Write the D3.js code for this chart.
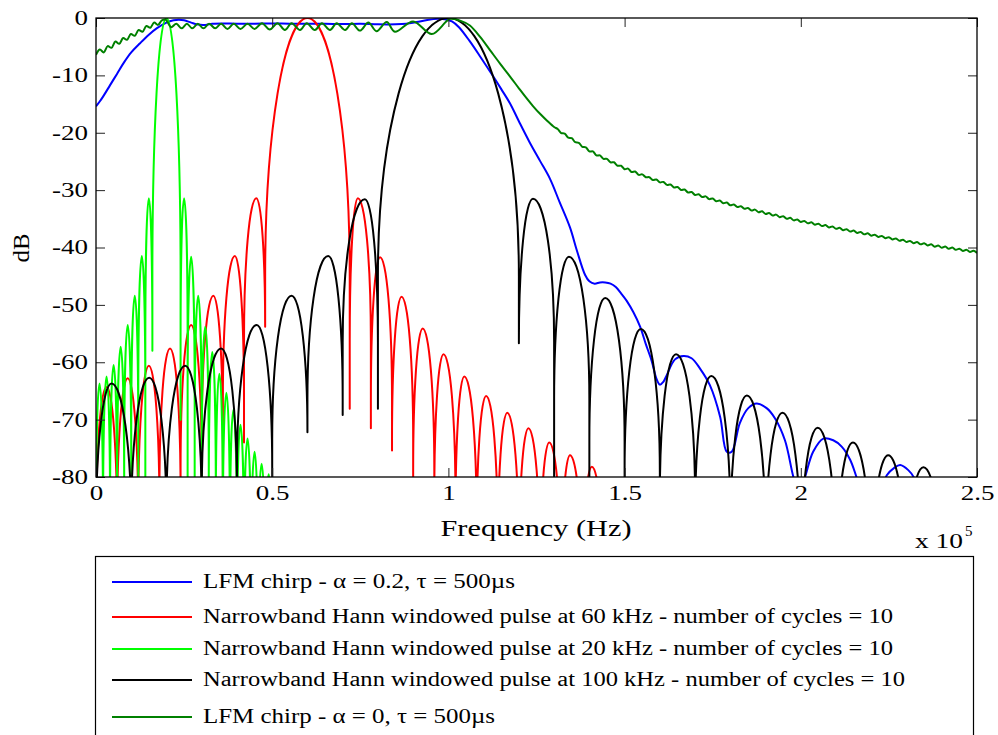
<!DOCTYPE html>
<html>
<head>
<meta charset="utf-8">
<script src="https://cdn.jsdelivr.net/npm/d3@7/dist/d3.min.js"></script>
<style>
  html, body { margin: 0; padding: 0; background: #fff; }
  svg { display: block; }
  svg text { font-family: "Liberation Serif", "DejaVu Serif", "Noto Serif", "Times New Roman", serif; fill: #000; }
</style>
</head>
<body>
<svg id="chart" width="998" height="735"></svg>
<script>
// ---- data (frequency in kHz, level in dB) ----
const xTickValues = [0, 50, 100, 150, 200, 250];
const xTickLabels = ["0", "0.5", "1", "1.5", "2", "2.5"];
const yTickValues = [0, -10, -20, -30, -40, -50, -60, -70, -80];
const yTickLabels = ["0", "-10", "-20", "-30", "-40", "-50", "-60", "-70", "-80"];

// Hann windowed pulses: nulls [f, dB] and the lobe peak found between each pair of nulls
const hann20Nulls = [[0,-100],[2,-100],[4,-100],[6,-100],[8,-100],[10,-100],[12,-100],[14,-100],[16,-58],
  [24,-70],[26,-100],[28,-100],[30,-100],[32,-100],[34,-100],[36,-100],[38,-100],[40,-100],[42,-100],
  [44,-100],[46,-100],[48,-100],[50,-100]];
const hann20Peaks = [[1,-63.7],[3,-62.5],[5,-60.5],[7,-57.3],[9,-53.5],[11,-48.4],[13,-41.5],[15,-31.4],
  [20,0],[25,-31.4],[27,-41.6],[29,-48.4],[31,-53.8],[33,-58.2],[35,-62],[37,-65.3],[39,-68.3],
  [41,-70.9],[43,-73.3],[45,-75.6],[47,-77.7],[49,-79.5]];

const hann60Nulls = [[0,-100],[6,-100],[12,-100],[18,-100],[24,-100],[30,-100],[36,-100],[42,-74],
  [48,-53.8],[72,-68.1],[78,-71.5],[84,-75.4],[90,-100],[96,-100],[102,-100],[108,-100],[114,-100],
  [120,-100],[126,-100],[132,-100],[138,-100],[144,-100]];
const hann60Peaks = [[3,-64.3],[9,-62.8],[15,-60.6],[21,-57.6],[27,-53.5],[33.3,-48.4],[39.4,-41.5],
  [45.5,-31.4],[60,0],[74.3,-31.4],[80.6,-41.7],[86.7,-48.6],[92.7,-54.1],[98.6,-58.6],[104.5,-62.5],
  [110.7,-65.9],[116.7,-68.8],[122.7,-71.5],[128.6,-74],[134.5,-76.2],[140.7,-78.2]];

const hann100Nulls = [[0,-100],[10,-100],[20,-100],[30,-100],[40,-100],[50,-100],[60,-72.2],[70,-69.2],
  [80,-68.1],[120,-56.7],[130,-100],[140,-100],[150,-100],[160,-100],[170,-100],[180,-100],[190,-100],
  [200,-100],[210,-100],[220,-100],[230,-100],[240,-100],[250,-100]];
const hann100Peaks = [[4.4,-63.7],[15.1,-62.7],[25.3,-60.6],[35.5,-57.6],[45.6,-53.5],[55.5,-48.4],
  [65.9,-41.5],[76.3,-31.6],[100,0],[124,-31.5],[134.2,-41.6],[144.5,-48.8],[154.6,-54.2],[164.6,-58.6],
  [174.6,-62.4],[184.7,-65.8],[194.8,-68.8],[204.8,-71.4],[214.8,-74],[224.8,-76.2],[234.8,-78.3],[245,-80.3]];

// LFM chirp, alpha = 0.2
const lfmTaper = [[0,-15.4],[1,-14.6],[2,-13.7],[4,-11.7],[6,-9.7],[8,-7.7],[10,-6.0],[12.5,-4.4],[15,-2.9],
  [17.2,-1.8],[20,-0.8],[22,-0.4],[23.5,-0.3],[25,-0.4],[27,-0.8],[29,-1.15],[31,-1.2],[33,-1.0],[36,-0.95],
  [40,-1.0],[45,-1.0],[50,-0.95],[55,-1.0],[60,-1.0],[65,-1.0],[70,-1.05],[75,-1.0],[80,-1.1],[85,-1.1],
  [88,-1.0],[91,-0.7],[94,-0.35],[97,-0.15],[99,-0.2],[101,-0.6],[103,-1.6],[106,-4.0],[109,-6.7],
  [112,-9.5],[115,-12.4],[117.5,-14.9],[120,-18.0],[123,-21.6],[126,-24.9],[128.8,-28.0],[131.5,-32.0],
  [134.5,-36.5],[136.5,-40.6],[138.8,-44.8],[140,-45.9],[141.5,-46.3],[143,-46.1],[144.5,-46.1],
  [146,-46.3],[147.5,-46.9],[149,-48.0],[150.6,-49.3],[152.5,-51.3],[154.4,-53.8],[156,-56.8],
  [157.7,-59.8],[159,-62.8],[160,-63.9],[161,-63.4],[162,-62.2],[164.3,-59.5],[166.7,-58.9],[169,-59.3],
  [171.4,-61.1],[174.2,-64.0],[177.1,-69.5],[179,-75.6],[180.4,-75.6],[182.7,-70.6],[185.1,-68.0],
  [187.5,-67.2],[190.3,-68.0],[192.7,-69.8],[195.5,-73.6],[197.9,-80],[199.5,-83],[201.2,-80],
  [203.5,-75.6],[206.4,-73.3],[209.2,-73.6],[211.6,-74.7],[214,-77],[215.8,-80],[218,-84],[222,-84],
  [224.4,-79.7],[226.5,-78.4],[228.2,-77.9],[230.5,-78.8],[232,-80],[234,-84],[250,-92]];

// LFM chirp, alpha = 0: passband ripple and roll-off
const lfmRectBand = [[0,-6.4],[1.1,-5.5],[2.2,-6.0],[3.3,-4.9],[4.4,-5.2],[5.5,-4.1],[6.6,-4.5],[7.7,-3.5],
  [8.8,-3.8],[9.9,-2.8],[11,-3.1],[12.1,-2.1],[13.2,-2.4],[14.3,-1.4],[15.4,-1.7],[16.5,-0.8],[17.6,-1.2],
  [18.7,-0.4],[19.8,-0.3],[21.3,-1.6],[22.8,-1.0],[24.3,-1.8],[25.8,-1.0],[27.3,-1.8],[28.9,-1.0],
  [30.5,-1.8],[32.1,-1.0],[33.8,-1.8],[35.5,-1.0],[37.3,-1.9],[39.1,-1.0],[41,-1.9],[43,-1.0],[45,-1.9],
  [47.1,-0.9],[49.3,-2.0],[51.5,-0.9],[53.6,-2.1],[55.5,-0.9],[57.9,-2.1],[59.8,-0.9],[62.1,-2.1],
  [64.1,-0.9],[66.4,-2.1],[68.3,-0.9],[70.7,-2.1],[72.6,-0.9],[74.9,-2.2],[77.3,-0.8],[79.6,-2.3],
  [82.5,-0.7],[84.8,-2.4],[90,-0.6],[95.3,-2.8],[100.5,-0.15],[103.5,-0.5],[106.1,-1.3],[109,-3.3],
  [111.8,-5.6],[114.6,-7.9],[117.5,-10.2],[120,-12.25],[122,-13.85],[124,-15.35],[126,-16.7],[128,-17.9]];
// LFM chirp, alpha = 0: out-of-band tail with its fine ripple
const lfmRectTail = [[130,-19.0],[131,-19.35],[132,-20.05],[133,-20.15],[134,-20.85],[135,-20.95],
  [136,-21.65],[137,-21.75],[138,-22.45],[139,-22.55],[140,-23.25],[141,-23.25],[142,-23.95],[143,-23.95],
  [144,-24.55],[145,-24.55],[146,-25.15],[147,-25.15],[148,-25.75],[149,-25.75],[150,-26.35],[151,-26.25],
  [152,-26.85],[153,-26.75],[154,-27.35],[155,-27.25],[156,-27.75],[157,-27.75],[158,-28.25],[159,-28.15],
  [160,-28.65],[161,-28.57],[162,-29.09],[163,-29.01],[164,-29.53],[165,-29.45],
  [166,-29.97],[167,-29.89],[168,-30.41],[169,-30.33],[170,-30.85],[171,-30.73],[172,-31.21],[173,-31.09],
  [174,-31.57],[175,-31.45],[176,-31.93],[177,-31.81],[178,-32.29],[179,-32.17],[180,-32.65],[181,-32.5],
  [182,-32.95],[183,-32.8],[184,-33.25],[185,-33.1],[186,-33.55],[187,-33.4],[188,-33.85],[189,-33.7],
  [190,-34.15],[191,-33.99],[192,-34.43],[193,-34.27],[194,-34.71],[195,-34.55],[196,-34.99],[197,-34.83],
  [198,-35.27],[199,-35.11],[200,-35.55],[201,-35.37],[202,-35.79],[203,-35.61],[204,-36.03],[205,-35.85],
  [206,-36.27],[207,-36.09],[208,-36.51],[209,-36.33],[210,-36.75],[211,-36.57],[212,-36.99],[213,-36.81],
  [214,-37.23],[215,-37.05],[216,-37.47],[217,-37.29],[218,-37.71],[219,-37.53],[220,-37.95],[221,-37.76],
  [222,-38.17],[223,-37.98],[224,-38.39],[225,-38.2],[226,-38.61],[227,-38.42],[228,-38.83],[229,-38.64],
  [230,-39.05],[231,-38.85],[232,-39.25],[233,-39.05],[234,-39.45],[235,-39.25],[236,-39.65],[237,-39.45],
  [238,-39.85],[239,-39.65],[240,-40.05],[241,-39.84],[242,-40.23],[243,-40.02],[244,-40.41],[245,-40.2],
  [246,-40.59],[247,-40.38],[248,-40.77],[249,-40.56],[250,-40.95]];

const legendLabels = [
  "LFM chirp - \u03b1 = 0.2, \u03c4 = 500\u00b5s",
  "Narrowband Hann windowed pulse at 60 kHz - number of cycles = 10",
  "Narrowband Hann windowed pulse at 20 kHz - number of cycles = 10",
  "Narrowband Hann windowed pulse at 100 kHz - number of cycles = 10",
  "LFM chirp - \u03b1 = 0, \u03c4 = 500\u00b5s"
];

// ---- layout ----
const W = 998, H = 735;
const plot = { left: 96, right: 977, top: 18, bottom: 477 };
const colors = { taper: "#0000ff", h60: "#ff0000", h20: "#00ff00", h100: "#000000", rect: "#008000" };

const svg = d3.select("#chart");
svg.append("rect").attr("width", W).attr("height", H).attr("fill", "#fff");

const x = d3.scaleLinear().domain([0, 250]).range([plot.left, plot.right]);
const y = d3.scaleLinear().domain([-80, 0]).range([plot.bottom, plot.top]);

svg.append("defs").append("clipPath").attr("id", "plotClip")
  .append("rect").attr("x", plot.left).attr("y", plot.top)
  .attr("width", plot.right - plot.left).attr("height", plot.bottom - plot.top);

const marks = svg.append("g").attr("clip-path", "url(#plotClip)");

// Lobe path: each lobe is a pair of quarter ellipses meeting at the peak,
// dropping straight to the null on either side.
function lobePath(nulls, peaks, mainDepth, sideDepth) {
  let s = `M${x(nulls[0][0])},${y(nulls[0][1])}`;
  peaks.forEach(([fp, dp], i) => {
    const [fl, dl] = nulls[i];
    const [fr, dr] = nulls[i + 1];
    const depth = dp > -10 ? mainDepth : sideDepth;
    const dL = Math.min(depth, dp - dl);
    const dR = Math.min(depth, dp - dr);
    const xl = x(fl), xp = x(fp), xr = x(fr), yp = y(dp);
    const yl = y(dp - dL), yr = y(dp - dR);
    s += `L${xl},${yl}A${xp - xl},${yl - yp} 0 0 1 ${xp},${yp}`;
    s += `A${xr - xp},${yr - yp} 0 0 1 ${xr},${yr}L${xr},${y(dr)}`;
  });
  return s;
}

const smooth = d3.line().x(d => x(d[0])).y(d => y(d[1])).curve(d3.curveCatmullRom.alpha(0.5));

const lw = 2;
function stroke(sel, color) {
  return sel.attr("fill", "none").attr("stroke", color).attr("stroke-width", lw)
    .attr("stroke-linejoin", "round");
}
stroke(marks.append("path").attr("d", smooth(lfmTaper)), colors.taper);
stroke(marks.append("path").attr("d", lobePath(hann60Nulls, hann60Peaks, 45, 25)), colors.h60);
stroke(marks.append("path").attr("d", lobePath(hann20Nulls, hann20Peaks, 45, 25)), colors.h20);
stroke(marks.append("path").attr("d", lobePath(hann100Nulls, hann100Peaks, 45, 25)), colors.h100);
stroke(marks.append("path").attr("d", smooth(lfmRectBand.concat(lfmRectTail))), colors.rect);

// ---- axes (ticks point inward on all four sides) ----
const tickLen = 9;
const tickFont = 20;

const gLeft = svg.append("g").attr("transform", `translate(${plot.left},0)`)
  .call(d3.axisLeft(y).tickValues(yTickValues).tickFormat((d, i) => yTickLabels[i])
    .tickSizeInner(-tickLen).tickSizeOuter(0).tickPadding(8));
const gBottom = svg.append("g").attr("transform", `translate(0,${plot.bottom})`)
  .call(d3.axisBottom(x).tickValues(xTickValues).tickFormat((d, i) => xTickLabels[i])
    .tickSizeInner(-tickLen).tickSizeOuter(0).tickPadding(9));
const gRight = svg.append("g").attr("transform", `translate(${plot.right},0)`)
  .call(d3.axisRight(y).tickValues(yTickValues).tickFormat("").tickSizeInner(-tickLen).tickSizeOuter(0));
const gTop = svg.append("g").attr("transform", `translate(0,${plot.top})`)
  .call(d3.axisTop(x).tickValues(xTickValues).tickFormat("").tickSizeInner(-tickLen).tickSizeOuter(0));

[gLeft, gBottom, gRight, gTop].forEach(g => {
  g.attr("font-family", null).attr("font-size", null);
  g.select(".domain").remove();
  g.selectAll(".tick line").attr("stroke", "#222").attr("stroke-width", 1);
  g.selectAll(".tick text").attr("font-size", tickFont);
});

svg.append("rect").attr("x", plot.left).attr("y", plot.top)
  .attr("width", plot.right - plot.left).attr("height", plot.bottom - plot.top)
  .attr("fill", "none").attr("stroke", "#000").attr("stroke-width", 1.3);

// widen glyphs horizontally by a common factor
function widen(sel, factor) {
  sel.each(function () {
    const w = this.getComputedTextLength();
    d3.select(this).attr("textLength", w * factor).attr("lengthAdjust", "spacingAndGlyphs");
  });
}
const tickNode = gLeft.selectAll(".tick text").filter((d, i) => i === yTickLabels.length - 1).node();
const tickFactor = 36 / tickNode.getComputedTextLength();
widen(gLeft.selectAll(".tick text"), tickFactor);
widen(gBottom.selectAll(".tick text"), tickFactor);

// ---- axis titles ----
svg.append("text").attr("x", 536).attr("y", 536).attr("text-anchor", "middle")
  .attr("font-size", 23).text("Frequency (Hz)")
  .attr("textLength", 191).attr("lengthAdjust", "spacingAndGlyphs");
svg.append("text").attr("transform", "translate(29,248) rotate(-90)").attr("text-anchor", "middle")
  .attr("font-size", 23).text("dB")
  .attr("textLength", 29).attr("lengthAdjust", "spacingAndGlyphs");
svg.append("text").attr("x", 915).attr("y", 548).attr("font-size", 21).text("x 10")
  .attr("textLength", 48).attr("lengthAdjust", "spacingAndGlyphs");
svg.append("text").attr("x", 965).attr("y", 536).attr("font-size", 15).text("5");

// ---- legend ----
const legendRows = [582, 617, 649, 680, 717];
const legendWidths = [312, 690, 690, 702, 292];
const legendColors = [colors.taper, colors.h60, colors.h20, colors.h100, colors.rect];
const lg = svg.append("g");
lg.append("rect").attr("x", 95.5).attr("y", 556.5).attr("width", 878).attr("height", 200)
  .attr("fill", "#fff").attr("stroke", "#000").attr("stroke-width", 1.2);
legendLabels.forEach((label, i) => {
  lg.append("line").attr("x1", 112).attr("x2", 192).attr("y1", legendRows[i]).attr("y2", legendRows[i])
    .attr("stroke", legendColors[i]).attr("stroke-width", 2);
  lg.append("text").attr("x", 203).attr("y", legendRows[i] + 6)
    .attr("font-size", 20).text(label)
    .attr("textLength", legendWidths[i]).attr("lengthAdjust", "spacingAndGlyphs");
});
</script>
</body>
</html>
